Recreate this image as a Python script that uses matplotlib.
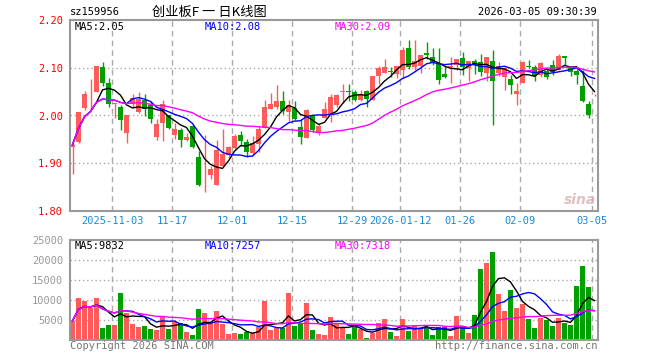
import numpy as np
import pandas as pd
import matplotlib
matplotlib.use("Agg")
import matplotlib.pyplot as plt

# daily k-line data, 88 trading days (2025-10-23 .. 2026-03-05)
opens = [1.935, 1.944, 2.016, 2.042, 2.049, 2.101, 2.069, 2.024, 2.018, 1.964,
         2.025, 2.007, 2.033, 2.021, 1.955, 1.985, 2.000, 1.960, 1.969, 1.949,
         1.978, 1.914, 1.856, 1.875, 1.855, 1.894, 1.917, 1.931, 1.960, 1.945,
         1.921, 1.940, 1.974, 2.014, 2.017, 2.031, 2.007, 2.016, 1.976, 1.953,
         2.001, 1.964, 1.995, 2.002, 2.023, 2.050, 2.051, 2.049, 2.033, 2.051,
         2.033, 2.082, 2.089, 2.093, 2.0875, 2.096, 2.142, 2.101, 2.104, 2.131,
         2.122, 2.110, 2.0875, 2.101, 2.106, 2.121, 2.099, 2.115, 2.112, 2.090,
         2.115, 2.090, 2.080, 2.076, 2.044, 2.069, 2.103, 2.101, 2.085, 2.094,
         2.106, 2.096, 2.124, 2.099, 2.094, 2.0625, 2.025, 2.042]
closes = [1.939, 2.007, 2.046, 2.042, 2.104, 2.069, 2.024, 2.026, 1.990, 2.002,
          2.037, 2.035, 2.014, 1.993, 1.983, 2.025, 1.974, 1.971, 1.949, 1.955,
          1.933, 1.855, 1.856, 1.889, 1.927, 1.919, 1.934, 1.957, 1.947, 1.924,
          1.942, 1.971, 2.017, 2.025, 2.031, 2.009, 2.023, 1.993, 1.955, 2.011,
          1.969, 1.979, 2.014, 2.039, 2.042, 2.050, 2.049, 2.033, 2.044, 2.035,
          2.082, 2.099, 2.101, 2.092, 2.103, 2.1375, 2.101, 2.115, 2.126, 2.126,
          2.110, 2.074, 2.081, 2.104, 2.119, 2.101, 2.115, 2.106, 2.092, 2.1215,
          2.0715, 2.103, 2.099, 2.063, 2.051, 2.112, 2.102, 2.082, 2.110, 2.080,
          2.091, 2.124, 2.120, 2.092, 2.084, 2.030, 2.002, 2.043]
highs = [1.943, 2.007, 2.051, 2.076, 2.104, 2.111, 2.078, 2.026, 2.023, 2.002,
         2.046, 2.049, 2.046, 2.030, 1.992, 2.032, 2.002, 1.985, 1.974, 1.964,
         1.981, 1.926, 1.960, 1.894, 1.948, 1.972, 1.936, 1.962, 1.967, 1.950,
         1.958, 1.978, 2.033, 2.047, 2.063, 2.052, 2.033, 2.030, 1.992, 2.014,
         2.002, 1.983, 2.028, 2.044, 2.044, 2.065, 2.065, 2.053, 2.054, 2.053,
         2.082, 2.103, 2.119, 2.101, 2.104, 2.143, 2.158, 2.158, 2.127, 2.153,
         2.142, 2.142, 2.103, 2.122, 2.119, 2.133, 2.115, 2.118, 2.128, 2.1215,
         2.1375, 2.112, 2.101, 2.085, 2.068, 2.115, 2.117, 2.106, 2.111, 2.099,
         2.117, 2.1285, 2.124, 2.103, 2.097, 2.096, 2.031, 2.045]
lows = [1.877, 1.942, 2.011, 2.0125, 2.049, 2.0625, 2.018, 1.995, 1.969, 1.942,
        2.018, 2.006, 1.999, 1.985, 1.949, 1.947, 1.971, 1.950, 1.935, 1.947,
        1.931, 1.853, 1.840, 1.868, 1.855, 1.894, 1.912, 1.929, 1.937, 1.914,
        1.917, 1.924, 1.974, 2.014, 2.014, 2.004, 1.988, 1.990, 1.940, 1.953,
        1.965, 1.960, 1.995, 1.986, 2.018, 2.026, 2.030, 2.030, 2.030, 2.018,
        2.033, 2.065, 2.089, 2.081, 2.078, 2.078, 2.097, 2.096, 2.090, 2.119,
        2.106, 2.065, 2.078, 2.068, 2.096, 2.084, 2.073, 2.0875, 2.083, 2.073,
        1.981, 2.082, 2.053, 2.046, 2.023, 2.068, 2.100, 2.0715, 2.080, 2.077,
        2.085, 2.096, 2.106, 2.083, 2.065, 2.028, 1.994, 2.040]
volumes = [4833, 10500, 9833, 7917, 10500, 3000, 3750, 3750, 11750, 6750,
           4000, 3250, 3500, 2750, 2500, 5750, 2750, 4400, 4250, 2000,
           1250, 7750, 6750, 4250, 7250, 4000, 1500, 1750, 1500, 2000,
           1750, 3250, 9833, 2500, 3000, 3000, 11750, 3500, 4250, 9250,
           2500, 1500, 1250, 5750, 4250, 3000, 1500, 3250, 2750, 500,
           1750, 4250, 5250, 2000, 1000, 5250, 2250, 3500, 2750, 3250,
           1250, 3250, 3250, 1000, 6000, 3000, 1750, 6250, 17750, 19250,
           22000, 11500, 7250, 12500, 8000, 9000, 5250, 3000, 5500, 5000,
           3500, 5500, 4250, 3750, 13500, 18500, 13250, 250]

date_labels = ["2025-11-03", "11-17", "12-01", "12-15", "12-29",
               "2026-01-12", "01-26", "02-09", "03-05"]
date_index = [7, 17, 27, 37, 47, 55, 65, 75, 87]
price_ticks = [1.80, 1.90, 2.00, 2.10, 2.20]
vol_ticks = [5000, 10000, 15000, 20000, 25000]

UP = "#ff5b5b"
DOWN = "#00a000"
GRID = "#aaaaaa"
MONO = "DejaVu Sans Mono"

W, H = 660, 360
fig = plt.figure(figsize=(W / 100, H / 100), dpi=100)
fig.patch.set_facecolor("white")


def px_axes(x0, y0, x1, y1):
    return fig.add_axes([x0 / W, 1 - y1 / H, (x1 - x0) / W, (y1 - y0) / H])


ax = px_axes(70, 20, 598, 211)
axv = px_axes(70, 240, 598, 340)

n = len(closes)
x = np.arange(n) + 5 / 12
o = np.array(opens)
c = np.array(closes)
up = c >= o
colors = np.where(up, UP, DOWN)

# candles
ax.vlines(x, lows, highs, colors=colors, linewidth=1)
body_h = np.maximum(np.abs(c - o), 0.0012)
ax.bar(x, body_h, bottom=np.minimum(o, c), width=5 / 6, color=colors,
       linewidth=0)

s = pd.Series(closes)
ax.plot(x, s.rolling(5, min_periods=1).mean(), color="black", lw=1)
ax.plot(x, s.rolling(10, min_periods=1).mean(), color="#0000ff", lw=1)
ax.plot(x, s.rolling(30, min_periods=1).mean(), color="#ff00ff", lw=1)

# volume
axv.bar(x, volumes, width=5 / 6, color=colors, linewidth=0)
v = pd.Series(volumes)
axv.plot(x, v.rolling(5, min_periods=1).mean(), color="black", lw=1)
axv.plot(x, v.rolling(10, min_periods=1).mean(), color="#0000ff", lw=1)
axv.plot(x, v.rolling(30, min_periods=1).mean(), color="#ff00ff", lw=1)

for a in (ax, axv):
    a.set_xlim(0, n)
    for i in date_index:
        a.axvline(i, color=GRID, lw=1, ls=(0, (4, 3)), zorder=0)
    for sp in a.spines.values():
        sp.set_color("#999999")
        sp.set_linewidth(1.5)
    a.set_xticks([])
    a.tick_params(axis="y", length=0, pad=5)

ax.set_ylim(1.80, 2.20)
ax.set_yticks(price_ticks)
ax.set_yticklabels([f"{p:.2f}" for p in price_ticks], color="red",
                   family=MONO, fontsize=7.5)
for p in price_ticks[1:-1]:
    ax.axhline(p, color=GRID, lw=1, ls=(0, (1, 2)), zorder=0)

axv.set_ylim(0, 25000)
axv.set_yticks(vol_ticks)
axv.set_yticklabels([str(t) for t in vol_ticks], color="#999999",
                    family=MONO, fontsize=7.5)
for t in vol_ticks[:-1]:
    axv.axhline(t, color=GRID, lw=1, ls=(0, (1, 2)), zorder=0)

# date labels between panels
for lab, i in zip(date_labels, date_index):
    fig.text((70 + 6 * i) / W, 1 - 221 / H, lab, color="#1a8ad4",
             family=MONO, fontsize=7.5, ha="center", va="center")

# header texts
fig.text(70 / W, 1 - 12 / H, "sz159956", family=MONO, fontsize=7.5,
         va="center")
fig.text(209 / W, 1 - 12 / H, "创业板F 一 日K线图",
         family=["Noto Sans CJK SC", "DejaVu Sans"], fontsize=9.5,
         ha="center", va="center")
fig.text(597 / W, 1 - 12 / H, "2026-03-05 09:30:39", family=MONO,
         fontsize=7.5, ha="right", va="center")

for (lab, col, xp) in [("MA5:2.05", "black", 75), ("MA10:2.08", "#0000ff", 205),
                       ("MA30:2.09", "#ff00ff", 335)]:
    fig.text(xp / W, 1 - 27 / H, lab, color=col, family=MONO, fontsize=7.5,
             va="center")
for (lab, col, xp) in [("MA5:9832", "black", 75), ("MA10:7257", "#0000ff", 205),
                       ("MA30:7318", "#ff00ff", 335)]:
    fig.text(xp / W, 1 - 246 / H, lab, color=col, family=MONO, fontsize=7.5,
             va="center")

fig.text(70 / W, 1 - 346 / H, "Copyright 2026 SINA.COM", color="#777777",
         family=MONO, fontsize=7.5, va="center")
fig.text(597 / W, 1 - 346 / H, "http://finance.sina.com.cn", color="#777777",
         family=MONO, fontsize=7.5, ha="right", va="center")
fig.text(596 / W, 1 - 200 / H, "sina", color="#d8b0b0", style="italic",
         fontweight="bold", fontsize=10, ha="right", va="center", alpha=0.8)

fig.savefig("out.png", dpi=100)
